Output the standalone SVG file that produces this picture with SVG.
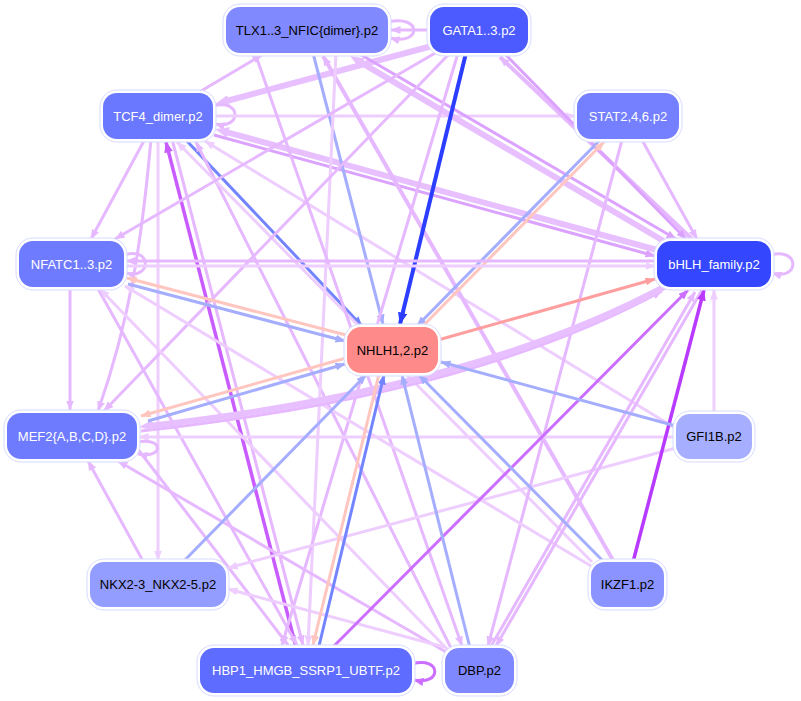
<svg xmlns="http://www.w3.org/2000/svg" width="801" height="701" viewBox="0 0 801 701">
<style>
.e{fill:none;stroke-width:3}
.lp{stroke:#e6b8ff;marker-end:url(#a-lp)}
.lp2{stroke:#dca2ff;marker-end:url(#a-lp2)}
.vlp{stroke:#eecdff;marker-end:url(#a-vlp)}
.lpT{stroke:#e8c0ff;stroke-width:6;marker-end:url(#a-lpT)}
.mp{stroke:#cc6eff;marker-end:url(#a-mp)}
.hp{stroke:#c95cff;stroke-width:3.5;marker-end:url(#a-hp)}
.dp{stroke:#b93aff;stroke-width:3.5;marker-end:url(#a-dp)}
.b{stroke:#7384ff;marker-end:url(#a-b)}
.lb{stroke:#a5adff;marker-end:url(#a-lb)}
.db{stroke:#2b3dff;stroke-width:4;marker-end:url(#a-db)}
.sal{stroke:#ff9e9e;marker-end:url(#a-sal)}
.pk{stroke:#ffc6c0;marker-end:url(#a-pk)}
.halo{fill:#fff;stroke:#d6dbff;stroke-width:1}
text{font-family:"Liberation Sans",Arial,sans-serif;font-size:13px;text-anchor:middle}
.w{fill:#fff}
.k{fill:#000}
</style>
<defs>
<marker id="a-lp" viewBox="0 0 10 8" refX="9.5" refY="4" markerWidth="10" markerHeight="8" markerUnits="userSpaceOnUse" orient="auto"><path d="M0,0L10,4L0,8z" fill="#e6b8ff"/></marker>
<marker id="a-lp2" viewBox="0 0 10 8" refX="9.5" refY="4" markerWidth="10" markerHeight="8" markerUnits="userSpaceOnUse" orient="auto"><path d="M0,0L10,4L0,8z" fill="#dca2ff"/></marker>
<marker id="a-vlp" viewBox="0 0 10 8" refX="9.5" refY="4" markerWidth="10" markerHeight="8" markerUnits="userSpaceOnUse" orient="auto"><path d="M0,0L10,4L0,8z" fill="#eecdff"/></marker>
<marker id="a-lpT" viewBox="0 0 14 11" refX="4" refY="5.5" markerWidth="14" markerHeight="11" markerUnits="userSpaceOnUse" orient="auto"><path d="M0,0L14,5.5L0,11z" fill="#e8c0ff"/></marker>
<marker id="a-mp" viewBox="0 0 10 8" refX="9.5" refY="4" markerWidth="10" markerHeight="8" markerUnits="userSpaceOnUse" orient="auto"><path d="M0,0L10,4L0,8z" fill="#cc6eff"/></marker>
<marker id="a-hp" viewBox="0 0 10 8" refX="9.5" refY="4" markerWidth="11" markerHeight="9" markerUnits="userSpaceOnUse" orient="auto"><path d="M0,0L10,4L0,8z" fill="#c95cff"/></marker>
<marker id="a-dp" viewBox="0 0 10 8" refX="9.5" refY="4" markerWidth="11" markerHeight="9" markerUnits="userSpaceOnUse" orient="auto"><path d="M0,0L10,4L0,8z" fill="#b93aff"/></marker>
<marker id="a-b" viewBox="0 0 10 8" refX="9.5" refY="4" markerWidth="10" markerHeight="8" markerUnits="userSpaceOnUse" orient="auto"><path d="M0,0L10,4L0,8z" fill="#7384ff"/></marker>
<marker id="a-lb" viewBox="0 0 10 8" refX="9.5" refY="4" markerWidth="10" markerHeight="8" markerUnits="userSpaceOnUse" orient="auto"><path d="M0,0L10,4L0,8z" fill="#a5adff"/></marker>
<marker id="a-db" viewBox="0 0 10 8" refX="9.5" refY="4" markerWidth="12" markerHeight="10" markerUnits="userSpaceOnUse" orient="auto"><path d="M0,0L10,4L0,8z" fill="#2b3dff"/></marker>
<marker id="a-sal" viewBox="0 0 10 8" refX="9.5" refY="4" markerWidth="10" markerHeight="8" markerUnits="userSpaceOnUse" orient="auto"><path d="M0,0L10,4L0,8z" fill="#ff9e9e"/></marker>
<marker id="a-pk" viewBox="0 0 10 8" refX="9.5" refY="4" markerWidth="10" markerHeight="8" markerUnits="userSpaceOnUse" orient="auto"><path d="M0,0L10,4L0,8z" fill="#ffc6c0"/></marker>
</defs>
<rect width="801" height="701" fill="#fff"/>
<g id="edges">
<path class="e lp" d="M388,22 C422,14 422,46 390,38"/>
<path class="e lp" d="M429,30 L391,30"/>
<path class="e lp" d="M196,94 L262,55"/>
<path class="e lpT" d="M432,46 L224.7,101.5"/>
<path class="e lp" d="M213,106 C242,98 242,130 215,124"/>
<path class="e vlp" d="M213,116 L575,116"/>
<path class="e lp2" d="M214,135 L655,256"/>
<path class="e lpT" d="M657,250 L224.6,131.6"/>
<path class="e b" d="M185,139 L362,326"/>
<path class="e lp" d="M145,139 L91,239"/>
<path class="e lp" d="M151,139 C142,240 130,320 98,411"/>
<path class="e vlp" d="M158,139 L158,560"/>
<path class="e lp" d="M172,139 L303,645"/>
<path class="e hp" d="M296,647 L166,142"/>
<path class="e lp" d="M451,648 L196,142"/>
<path class="e vlp" d="M592,562 L177,142"/>
<path class="e vlp" d="M675,428 L205,141"/>
<path class="e lb" d="M313,53 L383,324"/>
<path class="e lp2" d="M358,53 L676,239"/>
<path class="e lpT" d="M667,243 L358.6,61.1"/>
<path class="e lp" style="stroke-width:4" d="M614,562 L323,56"/>
<path class="e vlp" d="M336,53 L308,645"/>
<path class="e lp" d="M255,53 L462,646"/>
<path class="e db" d="M466,53 L400,324"/>
<path class="e lp" d="M437,52 L115,239"/>
<path class="e lp" d="M450,53 L104,411"/>
<path class="e lp" d="M458,53 L282,645"/>
<path class="e lp" style="stroke-width:4" d="M693,240 L500,57"/>
<path class="e lp2" d="M504,53 L686,239"/>
<path class="e lb" d="M600,140 L417,326"/>
<path class="e pk" d="M420,329 L604,142"/>
<path class="e lp" d="M642,140 L697,239"/>
<path class="e lp" d="M622,140 L488,646"/>
<path class="e lp" d="M124,255 C152,246 152,280 126,273"/>
<path class="e lp" d="M656,261 L126,261"/>
<path class="e vlp" d="M124,266 L655,266"/>
<path class="e pk" d="M346,335 L127,278"/>
<path class="e lb" d="M128,284 L345,341"/>
<path class="e lp" d="M70,287 L70,410"/>
<path class="e lp" d="M97,287 L297,645"/>
<path class="e vlp" d="M448,650 L100,289"/>
<path class="e vlp" d="M591,566 L125,286"/>
<path class="e lp" d="M141,431 Q472,395 662,291"/>
<path class="e lpT" d="M664,287 Q470,390 148.9,425.9"/>
<path class="e pk" d="M346,358 L141,416"/>
<path class="e lb" d="M148,421 L345,364"/>
<path class="e vlp" d="M675,437 L139,437"/>
<path class="e lp" d="M137,442 C164,437 164,459 138,454"/>
<path class="e lp" d="M143,561 L88,461"/>
<path class="e lp" d="M446,652 L118,461"/>
<path class="e lp" d="M137,448 L288,645"/>
<path class="e lb" d="M183,562 L366,375"/>
<path class="e vlp" d="M676,448 L228,568"/>
<path class="e vlp" d="M444,647 L228,589"/>
<path class="e mp" d="M412,664 C442,656 442,686 414,680"/>
<path class="e b" d="M319,646 L384,375"/>
<path class="e pk" d="M379,374 L313,645"/>
<path class="e mp" d="M333,647 L688,290"/>
<path class="e lb" d="M470,648 L402,375"/>
<path class="e lp" d="M702,290 L496,646"/>
<path class="e lp" d="M490,648 L695,292"/>
<path class="e lb" d="M604,562 L419,375"/>
<path class="e dp" d="M633,562 L704,290"/>
<path class="e vlp" d="M714,413 L714,290"/>
<path class="e lb" d="M676,426 L441,362"/>
<path class="e sal" d="M438,340 L655,279"/>
<path class="e lp" d="M771,255 C800,247 800,281 772,273"/>
</g>
<g id="n-tlx"><rect class="halo" x="223" y="4" width="168" height="52" rx="17"/><rect x="226" y="7" width="162" height="46" rx="14" fill="#8189ff"/><text class="k" x="307" y="34.5">TLX1..3_NFIC{dimer}.p2</text></g>
<g id="n-gata"><rect class="halo" x="427" y="4" width="104" height="52" rx="17"/><rect x="430" y="7" width="98" height="46" rx="14" fill="#4b5bff"/><text class="w" x="479" y="34.5">GATA1..3.p2</text></g>
<g id="n-tcf4"><rect class="halo" x="100" y="90" width="116" height="52" rx="17"/><rect x="103" y="93" width="110" height="46" rx="14" fill="#6a77ff"/><text class="w" x="158" y="120.5">TCF4_dimer.p2</text></g>
<g id="n-stat"><rect class="halo" x="574" y="90" width="108" height="52" rx="17"/><rect x="577" y="93" width="102" height="46" rx="14" fill="#7480ff"/><text class="w" x="628" y="120.5">STAT2,4,6.p2</text></g>
<g id="n-nfatc"><rect class="halo" x="16" y="238" width="111" height="52" rx="17"/><rect x="19" y="241" width="105" height="46" rx="14" fill="#6f7bff"/><text class="w" x="71.5" y="268.5">NFATC1..3.p2</text></g>
<g id="n-bhlh"><rect class="halo" x="654" y="238" width="120" height="52" rx="17"/><rect x="657" y="241" width="114" height="46" rx="14" fill="#3447ff"/><text class="w" x="714" y="268.5">bHLH_family.p2</text></g>
<g id="n-nhlh"><rect class="halo" x="344" y="324" width="97" height="52" rx="17" stroke="#ffd6d6"/><rect x="347" y="327" width="91" height="46" rx="14" fill="#ff8a8a"/><text class="k" x="392.5" y="354.5">NHLH1,2.p2</text></g>
<g id="n-mef2"><rect class="halo" x="4" y="410" width="136" height="52" rx="17"/><rect x="7" y="413" width="130" height="46" rx="14" fill="#6f7bff"/><text class="w" x="72" y="440.5">MEF2{A,B,C,D}.p2</text></g>
<g id="n-gfi1b"><rect class="halo" x="673" y="411" width="82" height="51" rx="17"/><rect x="676" y="414" width="76" height="45" rx="14" fill="#a6aeff"/><text class="k" x="714" y="441">GFI1B.p2</text></g>
<g id="n-nkx"><rect class="halo" x="87" y="559" width="142" height="51" rx="17"/><rect x="90" y="562" width="136" height="45" rx="14" fill="#939cff"/><text class="k" x="158" y="589">NKX2-3_NKX2-5.p2</text></g>
<g id="n-ikzf1"><rect class="halo" x="588" y="559" width="79" height="51" rx="17"/><rect x="591" y="562" width="73" height="45" rx="14" fill="#8a93ff"/><text class="k" x="627.5" y="589">IKZF1.p2</text></g>
<g id="n-hbp1"><rect class="halo" x="197" y="645" width="218" height="51" rx="17"/><rect x="200" y="648" width="212" height="45" rx="14" fill="#5e6cff"/><text class="w" x="306" y="675">HBP1_HMGB_SSRP1_UBTF.p2</text></g>
<g id="n-dbp"><rect class="halo" x="442" y="645" width="75" height="51" rx="17"/><rect x="445" y="648" width="69" height="45" rx="14" fill="#8088ff"/><text class="k" x="479.5" y="675">DBP.p2</text></g>
</svg>
